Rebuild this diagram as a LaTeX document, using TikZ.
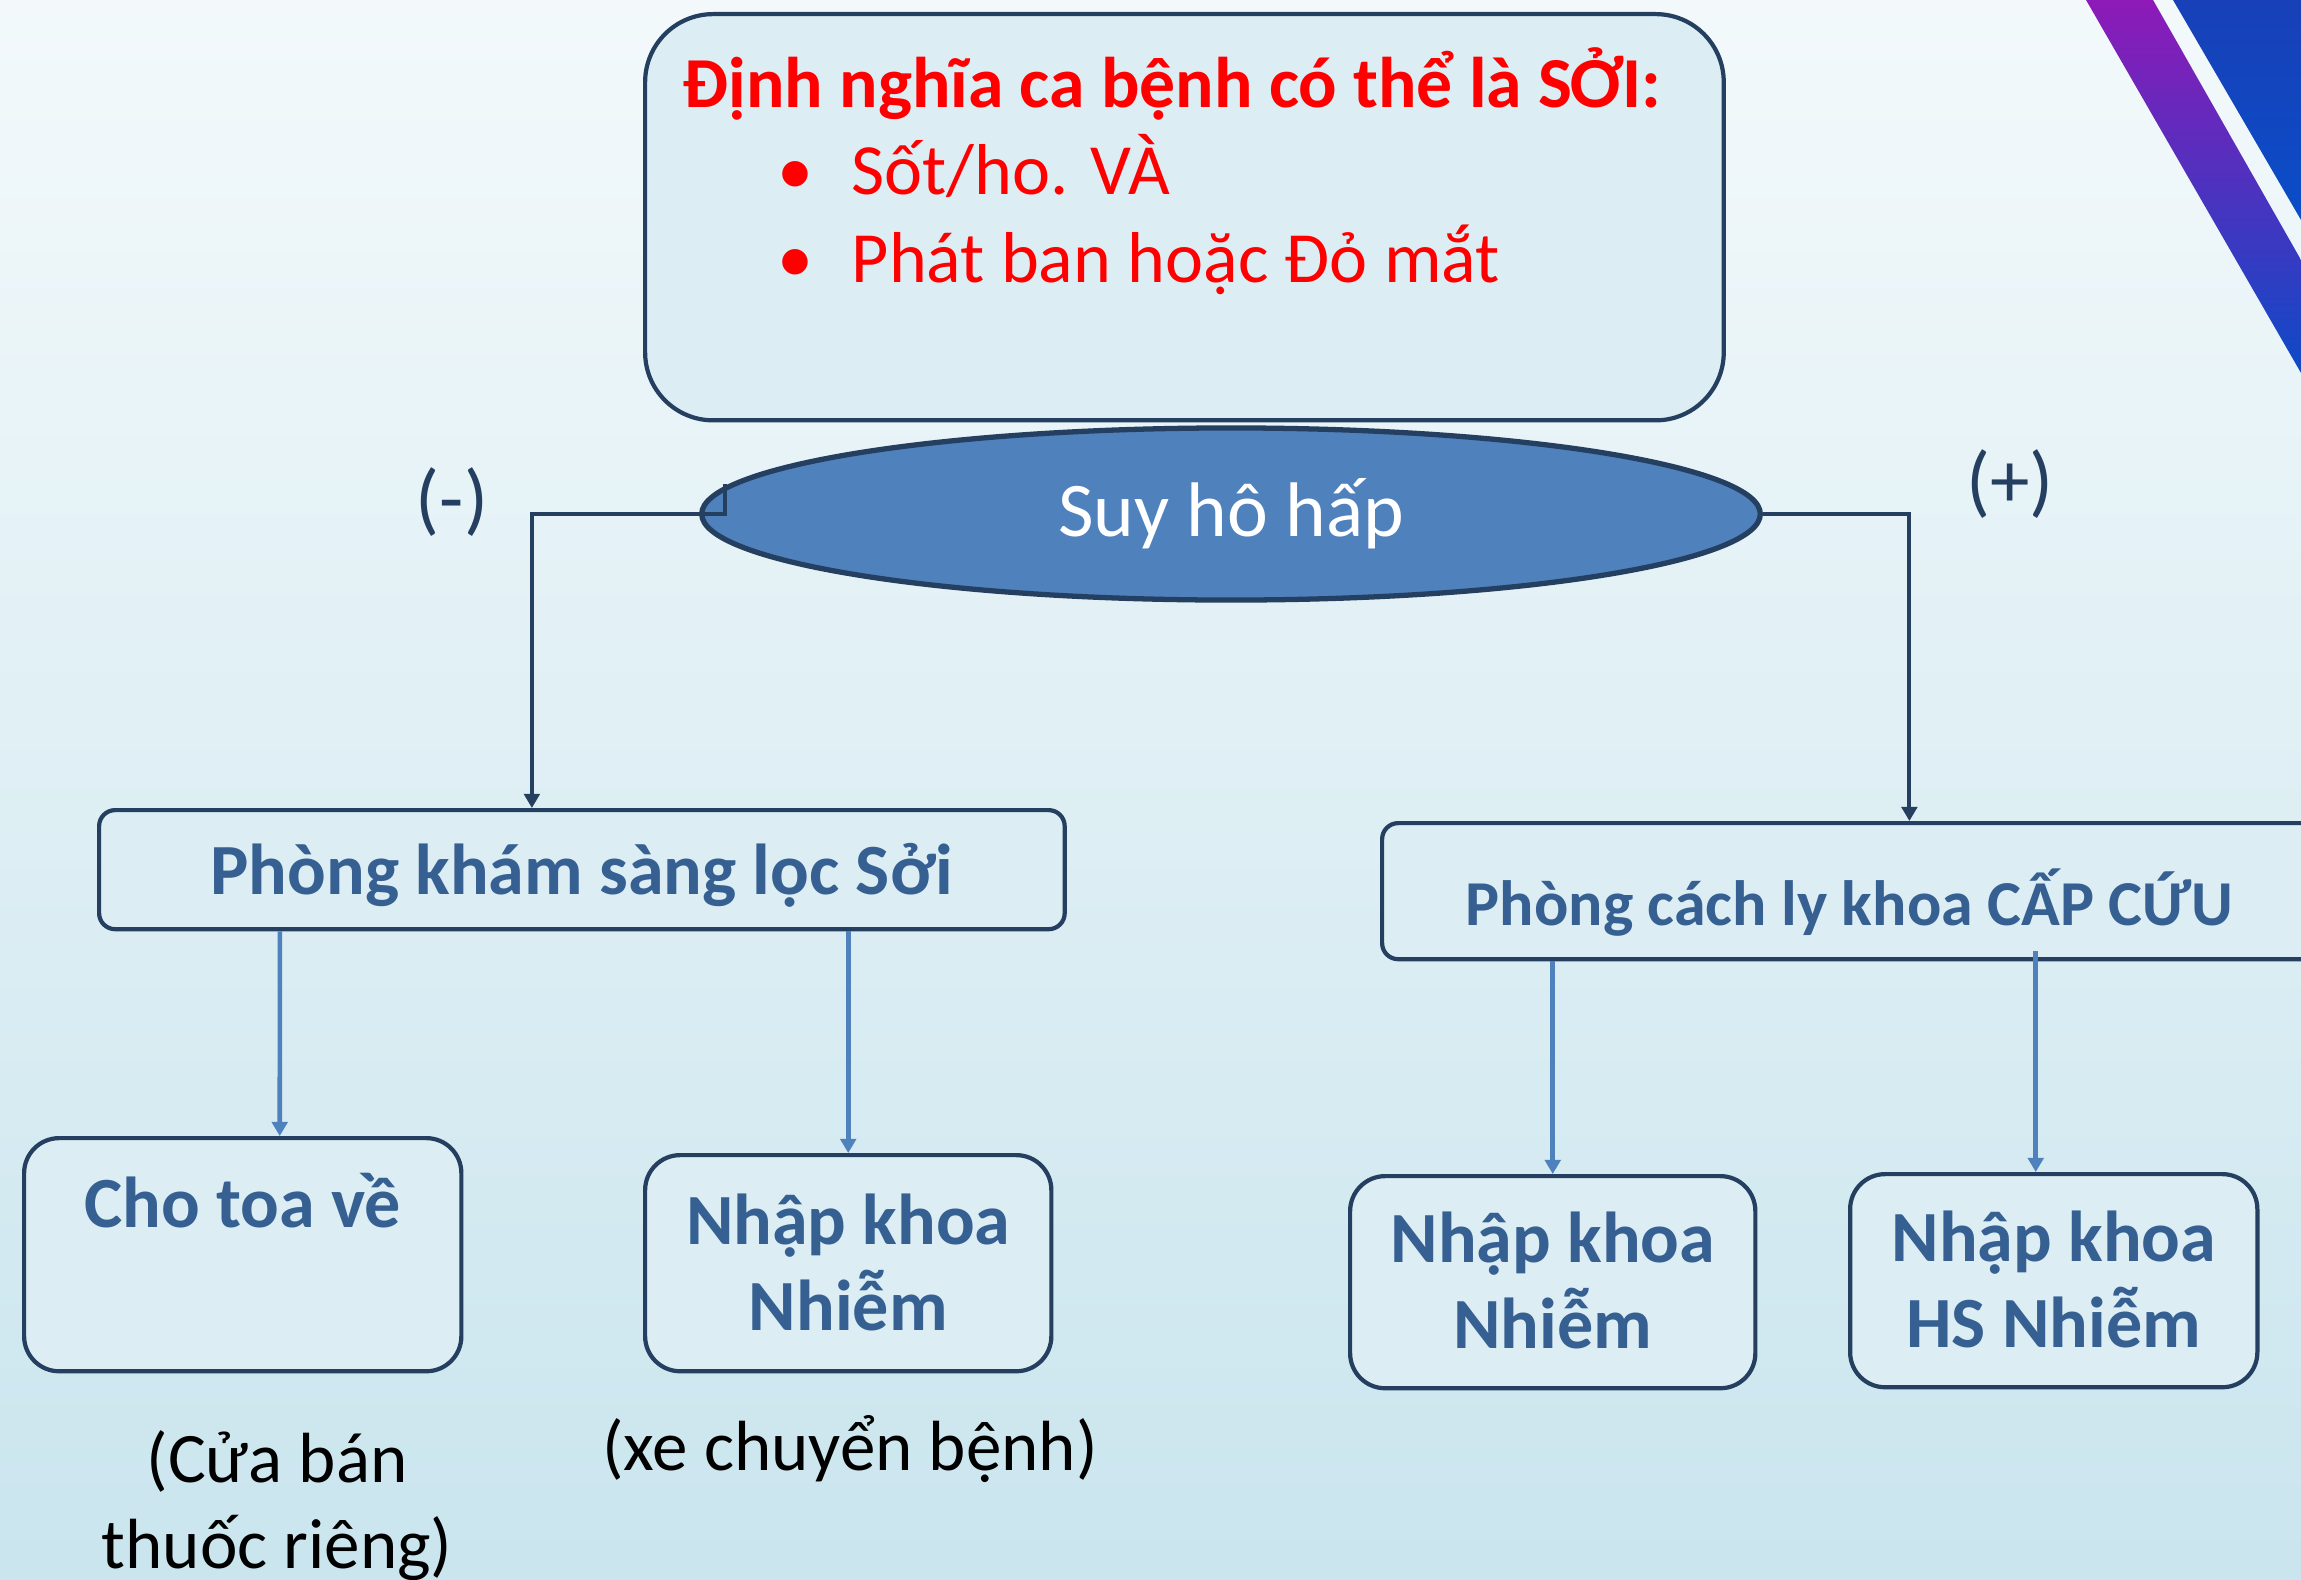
\documentclass[tikz,border=0pt]{standalone}
\usepackage{fontspec}
\setmainfont{Carlito}
\usepackage{tikz}
\usetikzlibrary{positioning,arrows.meta,shapes.geometric,calc}
\definecolor{bgtop}{HTML}{F3F9FB}
\definecolor{bgbot}{HTML}{CAE5EE}
\definecolor{boxfill}{HTML}{DCEEF4}
\definecolor{boxline}{HTML}{243F60}
\definecolor{boxtext}{HTML}{366092}
\definecolor{ovalfill}{HTML}{4F81BD}
\definecolor{flowblue}{HTML}{4F81BD}
\definecolor{bandtop}{HTML}{8E1AB8}
\definecolor{bandbot}{HTML}{0D4AC6}
\definecolor{wedgetop}{HTML}{1840B8}
\definecolor{wedgebot}{HTML}{0A4DC8}

\begin{document}
\begin{tikzpicture}[x=0.01cm, y=-0.01cm, >={Triangle[length=4pt,width=4.4pt]},
    panel/.style={draw=boxline, line width=1.2pt, fill=boxfill, inner sep=0pt,
        align=flush center, anchor=north west, text=boxtext,
        font=\fontsize{20.5}{24.5}\selectfont\bfseries},
    room/.style={panel, rounded corners=0.35cm},
    deftitle/.style={inner sep=0pt, text=red, font=\fontsize{20.4}{24.5}\selectfont\bfseries},
    defitem/.style={inner sep=0pt, text=red, font=\fontsize{20.5}{24.5}\selectfont},
    oval/.style={ellipse, draw=boxline, line width=1.5pt, fill=ovalfill,
        minimum width=10.58cm, minimum height=1.72cm, inner sep=0pt,
        text=white, font=\fontsize{22}{26}\selectfont},
    sign/.style={inner sep=0pt, text=boxline, font=\fontsize{22.5}{26}\selectfont},
    note/.style={inner sep=0pt, align=flush center, anchor=north, text=black,
        text width=7cm, text height=0.6cm, font=\fontsize{20.2}{24.3}\selectfont},
    link/.style={->, draw=boxline, line width=1.1pt},
    flow/.style={->, draw=flowblue, line width=1.3pt}]

    \useasboundingbox (0,0) rectangle (2301,1579);
    \clip (0,0) rectangle (2301,1579);

    % ================= BACKGROUND =================
    \shade[top color=bgtop, bottom color=bgbot] (0,0) rectangle (2301,1579);
    \shade[top color=bandtop, bottom color=bandbot] (2086,0) -- (2153,0) -- (2301,260) -- (2301,373) -- cycle;
    \shade[top color=wedgetop, bottom color=wedgebot] (2173,0) -- (2301,0) -- (2301,220) -- cycle;

    % ================= CASE DEFINITION =================
    \node[panel, rounded corners=0.68cm, minimum width=10.78cm, minimum height=4.06cm] (defbox) at (643,12) {};
    \node[deftitle, anchor=base] (title) at (1172,108) {Định nghĩa ca bệnh có thể là SỞI:};
    \node[defitem, anchor=base west] (item1) at (777,195) {\makebox[0.74cm][l]{•}Sốt/ho. VÀ};
    \node[defitem, anchor=base west] (item2) at (777,282) {\makebox[0.74cm][l]{•}Phát ban hoặc Đỏ mắt};

    % Decision
    \node[oval] (breath) at (1231,514) {Suy hô hấp};
    \node[sign] (minus) at (452,502) {(-)};
    \node[sign] (plus) at (2010,484) {(+)};

    % ================= FIRST LEVEL =================
    \node[panel, rounded corners=0.16cm, text width=9.65cm, text height=0.84cm, text depth=0.35cm] (screen) at (97,808) {Phòng khám sàng lọc Sởi};
    \node[panel, rounded corners=0.16cm, font=\fontsize{18.2}{22}\selectfont\bfseries,
        text width=9.34cm, text height=1.02cm, text depth=0.34cm] (isolate) at (1380,821) {Phòng cách ly khoa CẤP CỨU};

    % ================= SECOND LEVEL =================
    \node[room, text width=4.37cm, text height=0.89cm, text depth=1.44cm] (home) at (22,1136) {Cho toa về};
    \node[room, text width=4.06cm, text height=0.89cm, text depth=1.27cm] (ward1) at (643,1153) {Nhập khoa\\Nhiễm};
    \node[room, text width=4.05cm, text height=0.86cm, text depth=1.26cm] (ward2) at (1348,1174) {Nhập khoa\\Nhiễm};
    \node[room, text width=4.07cm, text height=0.87cm, text depth=1.26cm] (ward3) at (1848,1172) {Nhập khoa\\HS Nhiễm};

    \node[note] (homenote) at (277,1422) {(Cửa bán\\thuốc riêng)};
    \node[note] (carnote) at (850,1410) {(xe chuyển bệnh)};

    % ================= CONNECTORS =================
    \draw[link] ($(breath.west)+(26,-30)$) -- ($(breath.west)+(26,0)$) -| ($(screen.north)+(-50,0)$);
    \draw[link] (breath.east) -| ($(isolate.north)+(60,0)$);

    \draw[flow] ($(screen.south)+(-302,0)$) -- ($(home.north)+(37,0)$);
    \draw[flow] (screen.south -| ward1.north) -- (ward1.north);
    \draw[flow] (isolate.south -| ward2.north) -- (ward2.north);
    \draw[flow] ($(isolate.south -| ward3.north)+(-18,-10)$) -- ($(ward3.north)+(-18,0)$);

\end{tikzpicture}
\end{document}
